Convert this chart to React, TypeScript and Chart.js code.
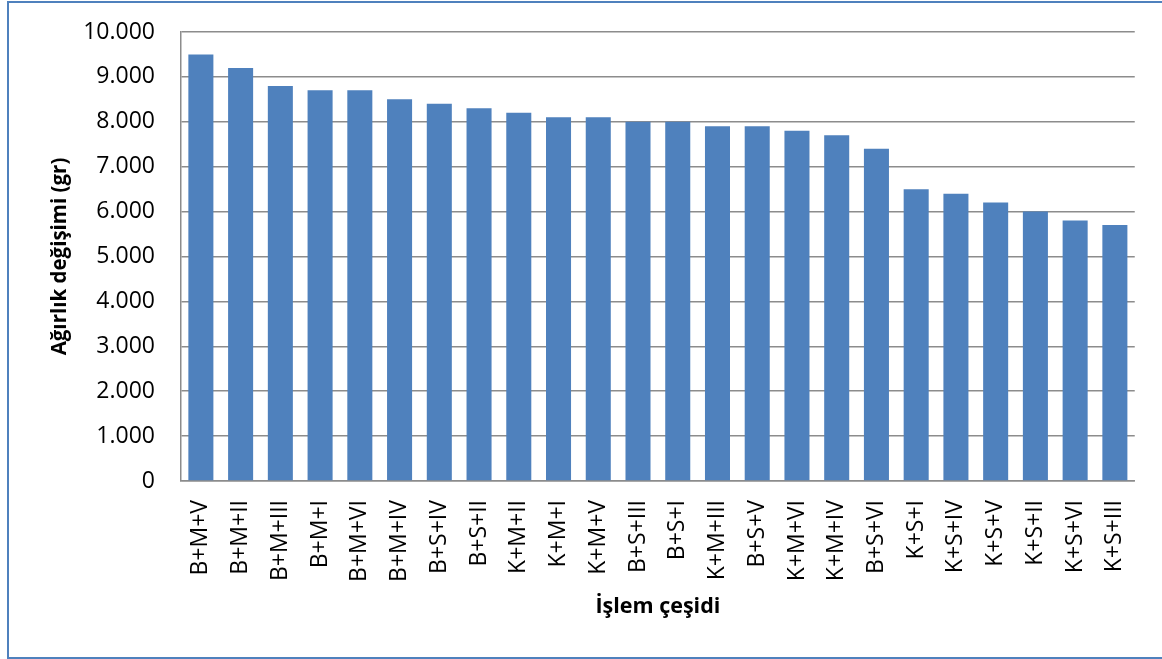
import React, { useEffect, useRef } from "react";
import { Chart, registerables } from "chart.js";

Chart.register(...registerables);

const categories = [
  "B+M+V", "B+M+II", "B+M+III", "B+M+I", "B+M+VI", "B+M+IV", "B+S+IV", "B+S+II",
  "K+M+II", "K+M+I", "K+M+V", "B+S+III", "B+S+I", "K+M+III", "B+S+V", "K+M+VI",
  "K+M+IV", "B+S+VI", "K+S+I", "K+S+IV", "K+S+V", "K+S+II", "K+S+VI", "K+S+III",
];

const values = [
  9500, 9200, 8800, 8700, 8700, 8500, 8400, 8300,
  8200, 8100, 8100, 8000, 8000, 7900, 7900, 7800,
  7700, 7400, 6500, 6400, 6200, 6000, 5800, 5700,
];

const yTitle = "Ağırlık değişimi (gr)";
const xTitle = "İşlem çeşidi";

function fmt(v: number): string {
  const s = Math.round(v).toString();
  return s.replace(/\B(?=(\d{3})+(?!\d))/g, ".");
}

const FONT = "'Open Sans', sans-serif";

export default function App() {
  const ref = useRef<HTMLCanvasElement>(null);
  useEffect(() => {
    if (!ref.current) return;
    const chart = new Chart(ref.current, {
      type: "bar",
      data: {
        labels: categories,
        datasets: [
          {
            data: values,
            backgroundColor: "#4F81BD",
            borderWidth: 0,
            barPercentage: 0.63,
            categoryPercentage: 1,
          },
        ],
      },
      options: {
        animation: false,
        responsive: false,
        maintainAspectRatio: false,
        layout: { padding: { top: 32, right: 25, left: 0, bottom: 0 } },
        plugins: { legend: { display: false }, tooltip: { enabled: false } },
        scales: {
          x: {
            grid: { display: false, drawTicks: false },
            border: { display: true, color: "#8c8c8c", width: 1.5 },
            ticks: {
              color: "#000",
              font: { family: FONT, size: 23 },
              minRotation: 90,
              maxRotation: 90,
              padding: 19,
              autoSkip: false,
            },
            title: {
              display: true,
              text: xTitle,
              color: "#000",
              font: { family: FONT, size: 21.5, weight: "bold" },
              padding: { top: 0, bottom: 39 },
            },
            afterFit: (s: any) => {
              s.height = 178;
            },
          },
          y: {
            min: 0,
            max: 10000,
            grid: {
              color: "#8c8c8c",
              lineWidth: 1.5,
              drawTicks: true,
              tickLength: 26,
              tickColor: "rgba(0,0,0,0)",
            },
            border: { display: true, color: "#8c8c8c", width: 1.5 },
            ticks: {
              stepSize: 1000,
              color: "#000",
              font: { family: FONT, size: 23 },
              padding: 0,
              callback: (v: any) => fmt(Number(v)),
            },
            title: {
              display: true,
              text: yTitle,
              color: "#000",
              font: { family: FONT, size: 20.5, weight: "bold" },
              padding: { top: 48, bottom: 0 },
            },
            afterFit: (s: any) => {
              s.width = 181;
            },
          },
        },
      },
    });
    return () => chart.destroy();
  }, []);

  return (
    <div
      style={{
        position: "absolute",
        left: 0,
        top: 0,
        width: 1162,
        height: 659,
        overflow: "hidden",
        background: "#fff",
      }}
    >
      <div
        style={{
          position: "absolute",
          left: 7,
          top: 1,
          width: 1200,
          height: 658,
          boxSizing: "border-box",
          border: "2px solid #4F81BD",
        }}
      />
      <canvas
        ref={ref}
        width={1162}
        height={659}
        style={{ position: "absolute", left: 0, top: 0, width: 1162, height: 659 }}
      />
    </div>
  );
}
